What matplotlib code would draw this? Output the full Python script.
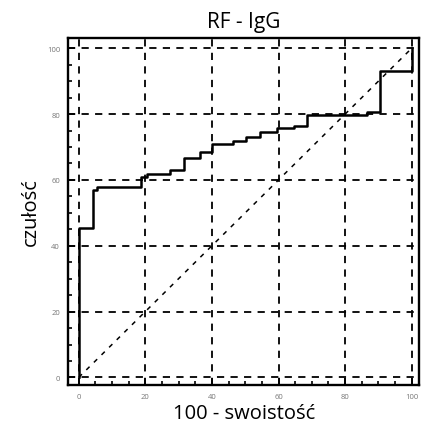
import matplotlib
matplotlib.use("Agg")
import matplotlib.pyplot as plt
from matplotlib.ticker import MultipleLocator

# ROC curve corners (100 - specificity, sensitivity), drawn as post-steps
fpr = [0, 0, 4.2, 5.5, 18.8, 20.5, 27.3, 31.5, 36.3, 40.0, 46.3, 50.2,
       54.5, 59.5, 64.8, 68.6, 86.6, 90.6, 100]
tpr = [0, 45.4, 57.0, 57.7, 60.8, 61.8, 63.0, 66.6, 68.6, 70.9, 71.8, 73.1,
       74.5, 75.7, 76.5, 79.6, 80.5, 93.0, 100]
diag = [0, 100]
ticks = [0, 20, 40, 60, 80, 100]

title = "RF - IgG"
xlabel = "100 - swoistość"
ylabel = "czułość"

plt.rcParams["font.family"] = ["Open Sans", "DejaVu Sans"]

fig = plt.figure(figsize=(4.22, 4.31), dpi=100)
ax = fig.add_axes([0.162, 0.1044, 0.831, 0.805])

# dashed grid, including the 0 and 100 lines
for t in ticks:
    ax.axvline(t, color="black", lw=1.3, ls=(0, (4, 3.5)), zorder=1)
    ax.axhline(t, color="black", lw=1.3, ls=(0, (4, 3.5)), zorder=1)

ax.plot(diag, diag, color="black", lw=1.1, ls=(0, (3, 4)), zorder=2)
ax.step(fpr, tpr, where="post", color="black", lw=1.8, zorder=3)

ax.set_xlim(-3.1, 102.2)
ax.set_ylim(-2.3, 103.1)

ax.xaxis.set_major_locator(MultipleLocator(20))
ax.yaxis.set_major_locator(MultipleLocator(20))
ax.xaxis.set_minor_locator(MultipleLocator(5))
ax.yaxis.set_minor_locator(MultipleLocator(5))
ax.tick_params(which="both", direction="in", top=False, right=False,
               width=1.2, colors="black", labelcolor="#777777",
               labelsize=5.5)
ax.tick_params(which="major", length=5)
ax.tick_params(which="minor", length=3)
ax.tick_params(axis="x", pad=6)
ax.tick_params(axis="y", pad=6)

for s in ax.spines.values():
    s.set_linewidth(1.7)

fig.text(0.578, 0.935, title, ha="center", va="baseline", fontsize=15,
         fontweight="medium")
ax.set_xlabel(xlabel, fontsize=14.5, labelpad=2, fontweight="medium")
ax.set_ylabel(ylabel, fontsize=14.5, labelpad=4, fontweight="medium")

fig.savefig("out.png", dpi=100)
